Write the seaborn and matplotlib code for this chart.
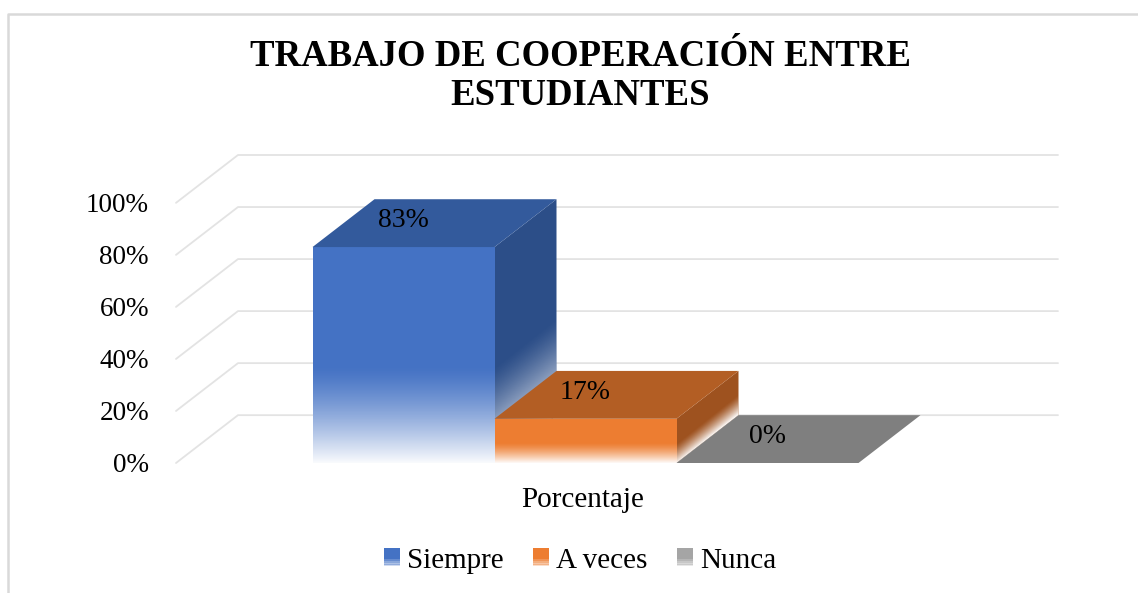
import numpy as np
import pandas as pd
import matplotlib
matplotlib.use("Agg")
import matplotlib.pyplot as plt
import seaborn as sns
from matplotlib.patches import Polygon, Rectangle
from matplotlib.lines import Line2D
from matplotlib.legend_handler import HandlerBase

# ---------------- data ----------------
categories = ["Siempre", "A veces", "Nunca"]
values = [83, 17, 0]
yticks = [0, 20, 40, 60, 80, 100]
ytick_labels = ["0%", "20%", "40%", "60%", "80%", "100%"]
title = "TRABAJO DE COOPERACIÓN ENTRE\nESTUDIANTES"
xlabel = "Porcentaje"

front_colors = ["#4472C4", "#ED7D31", "#A5A5A5"]
top_colors = ["#335A9C", "#B35E24", "#7F7F7F"]
side_colors = ["#2C4E88", "#9E521F", "#6E6E6E"]

# ---------------- style ----------------
sns.set_theme(style="white")
plt.rcParams["font.family"] = ["Liberation Serif", "DejaVu Serif"]
plt.rcParams["text.color"] = "black"

W, H = 1138, 593
fig = plt.figure(figsize=(W / 100, H / 100), dpi=100)

# pixel geometry of the fake-3D plot
px_left, px_right_back, px_bottom, px_top = 176, 1058, 463, 155
bar_px = 182.0            # pixels per category
unit_px = 2.61            # pixels per percent
DX = 62 / bar_px          # depth offset (x, data units)
DY = 48 / unit_px         # depth offset (y, data units)
xl = -1.25
xr_front = xl + 820 / bar_px

ax = fig.add_axes([px_left / W, 1 - px_bottom / H,
                   (px_right_back - px_left) / W, (px_bottom - px_top) / H])

df = pd.DataFrame({"categoria": categories, "valor": values})
sns.barplot(data=df, x="categoria", y="valor", hue="categoria",
            palette=front_colors, width=1.0, saturation=1, legend=False,
            ax=ax, linewidth=0)

# back grid lines (floor/wall perspective)
for v in yticks:
    ax.plot([xl, xl + DX, xr_front + DX], [v, v + DY, v + DY],
            color="#E3E3E3", lw=1.3, zorder=0, clip_on=False)


def fade_image(ax, x0, x1, y0, y1, base_h, slant, clip, z, fade_frac=0.45):
    """white overlay whose opacity grows toward the bar's base."""
    nx, ny = 40, 200
    xs = np.linspace(x0, x1, nx)
    ys = np.linspace(y0, y1, ny)
    X, Y = np.meshgrid(xs, ys)
    hfront = Y - (X - x0) * slant          # height measured on the front plane
    rel = hfront / max(base_h, 1e-9)
    a = np.clip((fade_frac - rel) / fade_frac, 0, 1) ** 1.3 * 0.97
    img = np.ones((ny, nx, 4))
    img[..., 3] = a
    im = ax.imshow(img, extent=(x0, x1, y0, y1), origin="lower",
                   aspect="auto", zorder=z, interpolation="bilinear")
    im.set_clip_path(clip)


patches = list(ax.patches)
for i, p in enumerate(patches):
    x0 = p.get_x()
    x1 = x0 + p.get_width()
    h = p.get_height()
    z = 2 + i
    p.set_zorder(z)
    p.set_antialiased(False)
    if h > 0:
        # side face (drawn under the front face)
        side = Polygon([(x1, h), (x1 + DX, h + DY), (x1 + DX, DY), (x1, 0)],
                       closed=True, facecolor=side_colors[i], edgecolor="none",
                       zorder=z - 0.2)
        ax.add_patch(side)
        fade_image(ax, x1, x1 + DX, 0, h + DY, h, DY / DX, side, z - 0.15)
        # front fade
        fade_image(ax, x0, x1, 0, h, h, 0.0, p, z + 0.05)
    # top face
    top = Polygon([(x0, h), (x1, h), (x1 + DX, h + DY), (x0 + DX, h + DY)],
                  closed=True, facecolor=top_colors[i], edgecolor="none",
                  zorder=z + 0.2)
    ax.add_patch(top)
    ax.text((x0 + x1) / 2, h + 10.2, f"{values[i]}%", ha="center", va="center",
            fontsize=20, color="black", zorder=10)

ax.set_xlim(xl, xl + (px_right_back - px_left) / bar_px)
ax.set_ylim(0, 100 + DY)
ax.set_yticks(yticks)
ax.set_yticklabels(ytick_labels)
ax.set_xticks([])
ax.set_xlabel("")
ax.set_ylabel("")
ax.tick_params(axis="y", length=0, pad=19.5, labelsize=19.5, labelcolor="black")
for s in ax.spines.values():
    s.set_visible(False)
ax.set_facecolor("none")
ax.grid(False)

# titles and labels
fig.text(580 / W, 1 - 76 / H, title, ha="center", va="center", color="black",
         fontsize=26.5, fontweight="bold", linespacing=1.15)
fig.text(583 / W, 1 - 500 / H, xlabel, ha="center", va="center",
         fontsize=21, color="black")


# legend with faded squares
class GradHandler(HandlerBase):
    def create_artists(self, legend, orig_handle, xdescent, ydescent,
                       width, height, fontsize, trans):
        col = orig_handle.get_facecolor()
        n = 10
        arts = []
        for k in range(n):
            frac = k / n
            alpha = 1.0 if frac > 0.4 else 0.25 + 0.75 * frac / 0.4
            r = Rectangle((-xdescent, -ydescent + height * frac), width,
                          height / n + 0.3, facecolor=col, alpha=alpha,
                          edgecolor="none", transform=trans)
            arts.append(r)
        return arts


handles = [Rectangle((0, 0), 1, 1, facecolor=c) for c in front_colors]
leg = fig.legend(handles, categories, loc="center",
                 bbox_to_anchor=(580 / W, 1 - 561 / H), ncol=3, frameon=False,
                 fontsize=21, handlelength=0.55, handleheight=0.55,
                 handletextpad=0.25, columnspacing=1.0,
                 handler_map={Rectangle: GradHandler()})
for t in leg.get_texts():
    t.set_color("black")

# chart frame (partially visible)
fig.add_artist(Line2D([8 / W, 8 / W, 1.0], [0, 1 - 13.5 / H, 1 - 13.5 / H],
                      color="#D9D9D9", lw=1.8, transform=fig.transFigure))

fig.savefig("out.png", dpi=100)
